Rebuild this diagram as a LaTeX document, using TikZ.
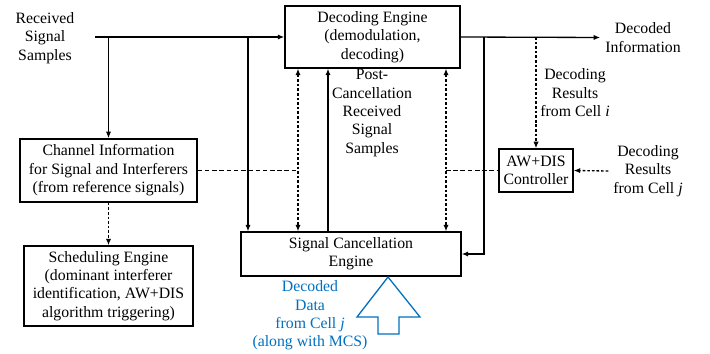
\documentclass[tikz,border=0pt]{standalone}
\usepackage{fontspec}
\setmainfont{Liberation Serif}
\usetikzlibrary{arrows.meta}
\definecolor{mcsblue}{RGB}{0,112,192}

\begin{document}
\begin{tikzpicture}[
    x=0.76pt, y=-0.76pt,
    line width=1pt,
    every node/.style={font=\fontsize{12}{14}\selectfont, align=center},
    box/.style={draw, rectangle, inner sep=2pt},
    arr/.style={-{Latex[length=5pt,width=4pt]}},
    dotarr/.style={dash pattern=on 2pt off 1.5pt},
    dashln/.style={dash pattern=on 3.5pt off 2pt}
]
    \useasboundingbox (0,0) rectangle (710,354);

    % --- BOXES ---
    \node[box, minimum width=133pt, minimum height=47pt] (dec) at (372.5, 37)
        {Decoding Engine\\(demodulation,\\decoding)};
    \node[box, minimum width=134.5pt, minimum height=48pt] (chan) at (108.5, 170.5)
        {Channel Information\\for Signal and Interferers\\(from reference signals)};
    \node[box, minimum width=128.4pt, minimum height=60.8pt] (sched) at (108.5, 286)
        {Scheduling Engine\\(dominant interferer\\identification, AW+DIS\\algorithm triggering)};
    \node[box, minimum width=167.2pt, minimum height=33.4pt] (canc) at (351, 254)
        {Signal Cancellation\\Engine};
    \node[box, minimum width=56.2pt, minimum height=32.7pt] (ctrl) at (536, 170.5)
        {AW+DIS\\Controller};

    % --- TEXT LABELS ---
    \node (rxs) at (45, 38) {Received\\Signal\\Samples};
    \node (decinfo) at (643, 37.5) {Decoded\\Information};
    \node (pcl) at (372, 113) {Post-\\Cancellation\\Received\\Signal\\Samples};
    \node (resi) at (575, 93) {Decoding\\Results\\from Cell \textit{i}};
    \node (resj) at (648, 171) {Decoding\\Results\\from Cell \textit{j}};
    \node[text=mcsblue] (dd) at (310, 315.5) {Decoded\\Data\\from Cell \textit{j}\\(along with MCS)};

    % Coordinates (columns of the vertical links)
    \coordinate (rx) at (95, 37);    % start of received samples
    \coordinate (tap) at (248, 37);  % branch to cancellation
    \coordinate (u1) at (298, 0);    % dotted, left
    \coordinate (u2) at (328, 0);    % post-cancellation samples
    \coordinate (u3) at (446, 0);    % dotted, right
    \coordinate (fb) at (484, 37);   % decoded feedback

    % --- SOLID LINKS ---
    \draw[arr] (rx) -- (dec.west);
    \draw[arr] (chan.north |- rx) -- (chan.north);
    \draw[arr] (tap) -- (tap |- canc.north);
    \draw[arr] (u2 |- canc.north) -- (u2 |- dec.south);
    \draw[arr] (dec.east) -- (decinfo.west);
    \draw[arr] (fb) |- (canc.east);

    % --- DOTTED / DASHED LINKS ---
    \draw[dotarr, arr] (chan.south) -- (sched.north);
    \draw[dotarr, {Latex[length=5pt,width=4pt]}-{Latex[length=5pt,width=4pt]}]
        (u1 |- dec.south) -- (u1 |- canc.north);
    \draw[dotarr, {Latex[length=5pt,width=4pt]}-{Latex[length=5pt,width=4pt]}]
        (u3 |- dec.south) -- (u3 |- canc.north);
    \draw[dashln] (chan.east) -- (u1 |- chan.east);
    \draw[dashln] (u3 |- ctrl.west) -- (ctrl.west);
    \draw[dotarr, arr] (ctrl.north |- dec.east) -- (ctrl.north);
    \draw[dotarr, arr] (resj.west) -- (ctrl.east);

    % Blue block arrow into the cancellation engine
    \draw[mcsblue] (388, 277) -- (420, 317) -- (399, 317) -- (399, 334)
        -- (378, 334) -- (378, 317) -- (357, 317) -- cycle;

\end{tikzpicture}
\end{document}
